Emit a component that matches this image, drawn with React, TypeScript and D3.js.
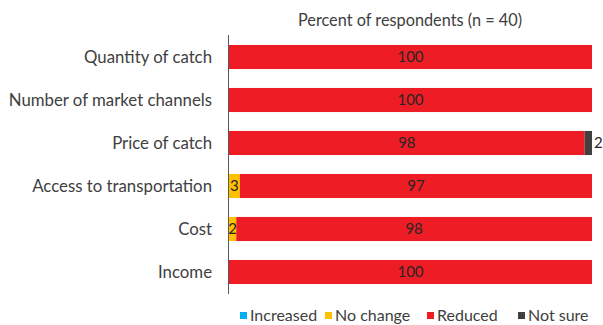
import React from "react";
import * as d3 from "d3";

const categories = [
  "Quantity of catch",
  "Number of market channels",
  "Price of catch",
  "Access to transportation",
  "Cost",
  "Income",
];
const seriesNames = ["Increased", "No change", "Reduced", "Not sure"];
const increased = [0, 0, 0, 0, 0, 0];
const noChange = [0, 0, 0, 3, 2, 0];
const reduced = [100, 100, 98, 97, 98, 100];
const notSure = [0, 0, 2, 0, 0, 0];
const colors = ["#00B0F0", "#FFC000", "#EE1C25", "#404040"];
const title = "Percent of respondents (n = 40)";

const W = 603;
const H = 325;
const FONT = "Lato, Carlito, Calibri, sans-serif";

export default function App() {
  const x = d3.scaleLinear().domain([0, 100]).range([229, 592]);
  const y = d3.scaleBand().domain(categories).range([35.5, 293.5]).paddingInner(0.44).paddingOuter(0.22);
  const seriesData = [increased, noChange, reduced, notSure];
  const rows = categories.map((c, i) => {
    const r: any = { cat: c };
    seriesNames.forEach((s, k) => (r[s] = seriesData[k][i]));
    return r;
  });
  const stack = d3.stack<any>().keys(seriesNames)(rows);

  const legendX = [240, 325, 427, 518];

  return (
    <svg width={W} height={H} style={{ position: "absolute", left: 0, top: 0, background: "#fff" }} fontFamily={FONT}>
      <text x={410} y={26} textAnchor="middle" fontSize={16.3} fill="#404040">
        {title}
      </text>
      {stack.map((layer, k) =>
        layer.map((d, i) => {
          const v = d[1] - d[0];
          if (v <= 0) return null;
          const cat = categories[i];
          const x0 = x(d[0]);
          const x1 = x(d[1]);
          const yy = y(cat)!;
          const bh = y.bandwidth();
          const outside = k === 3;
          return (
            <g key={`${k}-${i}`}>
              <rect x={x0} y={yy} width={x1 - x0} height={bh} fill={colors[k]} />
              <text
                x={outside ? x1 + 2 : (x0 + x1) / 2}
                y={yy + bh / 2}
                dy="0.35em"
                textAnchor={outside ? "start" : "middle"}
                fontSize={15}
                fill="#262626"
              >
                {v}
              </text>
            </g>
          );
        })
      )}
      <line x1={228.5} x2={228.5} y1={35} y2={294} stroke="#595959" strokeWidth={1} />
      {categories.map((c) => (
        <text
          key={c}
          x={212}
          y={y(c)! + y.bandwidth() / 2}
          dy="0.35em"
          textAnchor="end"
          fontSize={16.8}
          fill="#404040"
        >
          {c}
        </text>
      ))}
      {seriesNames.map((s, k) => (
        <g key={s}>
          <rect x={legendX[k]} y={312} width={7} height={7} fill={colors[k]} />
          <text x={legendX[k] + 10} y={315.5} dy="0.35em" fontSize={16} fill="#404040">
            {s}
          </text>
        </g>
      ))}
    </svg>
  );
}
